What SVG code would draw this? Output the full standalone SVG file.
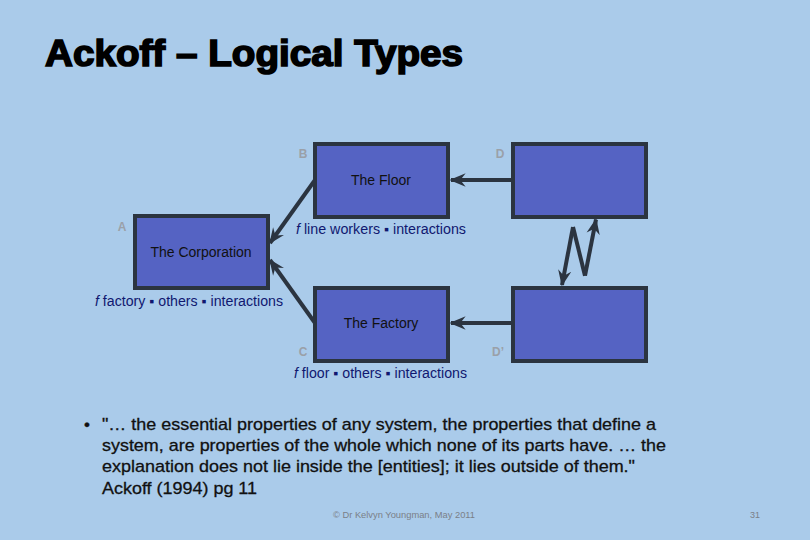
<svg xmlns="http://www.w3.org/2000/svg" width="810" height="540" viewBox="0 0 810 540">
<style>
.box{fill:#5563c3;stroke:#2b3440;stroke-width:4}
.conn{fill:none;stroke:#2b3440;stroke-width:4}
.nt{font-family:"Liberation Sans",Arial,sans-serif;font-size:14px;fill:#111;text-anchor:middle}
.sub{font-family:"Liberation Sans",Arial,sans-serif;font-size:14px;fill:#101870}
.lbl{font-family:"Liberation Sans",Arial,sans-serif;font-size:12px;font-weight:bold;fill:#9aa0a8;text-anchor:middle}
.body{font-family:"Liberation Sans",Arial,sans-serif;font-size:17px;fill:#111;stroke:#111;stroke-width:0.3}
.foot{font-family:"Liberation Sans",Arial,sans-serif;font-size:9px;fill:#7a8088}
</style>
<defs>
<marker id="ah" viewBox="0 0 12 10" refX="11" refY="5" markerWidth="4" markerHeight="4" orient="auto" markerUnits="strokeWidth">
<path d="M0,0 L12,5 L0,10 L4,5 z" fill="#2b3440"/>
</marker>
</defs>
<rect width="810" height="540" fill="#aacbea"/>
<text x="45" y="66" font-family="'Liberation Sans',Arial,sans-serif" font-size="36" font-weight="bold" fill="#000" stroke="#000" stroke-width="1.6" textLength="418" lengthAdjust="spacingAndGlyphs">Ackoff – Logical Types</text>

<g id="connectors">
<line class="conn" x1="315" y1="180" x2="270" y2="243" marker-end="url(#ah)"/>
<line class="conn" x1="315" y1="323" x2="270" y2="260" marker-end="url(#ah)"/>
<line class="conn" x1="513" y1="180" x2="451" y2="180" marker-end="url(#ah)"/>
<line class="conn" x1="513" y1="323" x2="451" y2="323" marker-end="url(#ah)"/>
<polyline class="conn" points="573,227 585,275.7"/>
<line class="conn" x1="573" y1="227" x2="562" y2="285" marker-end="url(#ah)"/>
<line class="conn" x1="585" y1="275.7" x2="596" y2="219.5" marker-end="url(#ah)"/>
</g>

<g id="nodeA">
<rect class="box" x="135" y="216" width="133" height="72"/>
<text class="nt" x="201" y="257">The Corporation</text>
<text class="lbl" x="122" y="231">A</text>
<text class="sub" x="95" y="306" textLength="188" lengthAdjust="spacingAndGlyphs"><tspan font-style="italic">f</tspan> factory ▪ others ▪ interactions</text>
</g>
<g id="nodeB">
<rect class="box" x="315" y="144" width="133" height="73"/>
<text class="nt" x="381" y="185">The Floor</text>
<text class="lbl" x="303" y="158">B</text>
<text class="sub" x="296" y="234" textLength="170" lengthAdjust="spacingAndGlyphs"><tspan font-style="italic">f</tspan> line workers ▪ interactions</text>
</g>
<g id="nodeC">
<rect class="box" x="315" y="288" width="133" height="73"/>
<text class="nt" x="381" y="328">The Factory</text>
<text class="lbl" x="303" y="356">C</text>
<text class="sub" x="294" y="378" textLength="173" lengthAdjust="spacingAndGlyphs"><tspan font-style="italic">f</tspan> floor ▪ others ▪ interactions</text>
</g>
<g id="nodeD">
<rect class="box" x="513" y="144" width="133" height="73"/>
<text class="lbl" x="500" y="158">D</text>
</g>
<g id="nodeD2">
<rect class="box" x="513" y="288" width="133" height="73"/>
<text class="lbl" x="498" y="356">D’</text>
</g>

<text class="body" x="84" y="430">•</text>
<text class="body" x="102" y="430" textLength="554" lengthAdjust="spacingAndGlyphs">"… the essential properties of any system, the properties that define a</text>
<text class="body" x="102" y="451" textLength="564" lengthAdjust="spacingAndGlyphs">system, are properties of the whole which none of its parts have. … the</text>
<text class="body" x="102" y="472" textLength="533" lengthAdjust="spacingAndGlyphs">explanation does not lie inside the [entities]; it lies outside of them."</text>
<text class="body" x="102" y="494" textLength="155" lengthAdjust="spacingAndGlyphs">Ackoff (1994) pg 11</text>

<text class="foot" x="333" y="518" textLength="142" lengthAdjust="spacingAndGlyphs">© Dr Kelvyn Youngman, May 2011</text>
<text class="foot" x="750" y="518">31</text>
</svg>
